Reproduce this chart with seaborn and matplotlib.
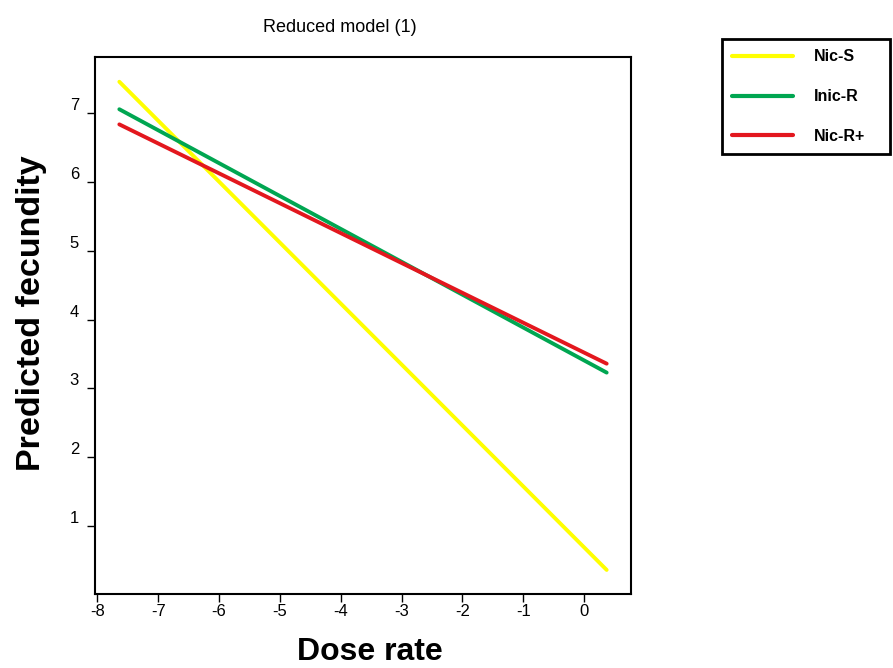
import matplotlib.pyplot as plt
from matplotlib.lines import Line2D
import seaborn as sns
import pandas as pd

groups = ["Nic-S", "Inic-R", "Nic-R+"]
dose = [-7.64, 0.37]
nic_s = [7.46, 0.36]
inic_r = [7.06, 3.23]
nic_r_plus = [6.84, 3.36]
colors = ["#ffff00", "#00a651", "#e3171e"]
xticks = [-8, -7, -6, -5, -4, -3, -2, -1, 0]
yticks = [1, 2, 3, 4, 5, 6, 7]

df = pd.DataFrame({
    "Dose rate": dose * 3,
    "Predicted fecundity": nic_s + inic_r + nic_r_plus,
    "group": [g for g in groups for _ in dose],
})

sns.set_style("white")
plt.rcParams["font.family"] = ["Liberation Sans", "DejaVu Sans"]
plt.rcParams["text.color"] = "black"
plt.rcParams["axes.labelcolor"] = "black"

fig = plt.figure(figsize=(8.93, 6.68), dpi=100)
ax = fig.add_axes([95 / 893, 1 - 594 / 668, 536 / 893, 537 / 668])
sns.lineplot(data=df, x="Dose rate", y="Predicted fecundity", hue="group",
             hue_order=groups, palette=colors, linewidth=2.8, legend=False, ax=ax)

ax.set_xlim(-8.04, 0.77)
ax.set_ylim(0.01, 7.82)
ax.set_xticks(xticks)
ax.set_yticks(yticks)
ax.set_xticklabels([str(t) for t in xticks])
ax.set_yticklabels([str(t) for t in yticks])

for s in ax.spines.values():
    s.set_color("black")
    s.set_linewidth(1.5)
ax.tick_params(axis="both", direction="out", length=5.5, width=1, color="black",
               labelsize=12, labelcolor="black", bottom=True, left=True)
ax.tick_params(axis="x", pad=2)
ax.tick_params(axis="y", pad=6)
plt.setp(ax.get_yticklabels(), va="bottom")

ax.set_xlabel("Dose rate", fontsize=23, fontweight="bold")
ax.set_ylabel("Predicted fecundity", fontsize=24.5, fontweight="bold")
ax.xaxis.set_label_coords(0.513, -0.08)
ax.yaxis.set_label_coords(-0.09, 0.523)

fig.text(340 / 893, 1 - 27 / 668, "Reduced model (1)", ha="center", va="center",
         fontsize=13, family=["Liberation Sans Narrow", "Liberation Sans"])

handles = [Line2D([0], [0], color=c, linewidth=3) for c in colors]
leg = fig.legend(handles, groups, loc="upper left",
                 bbox_to_anchor=(722 / 893, 1 - 155 / 668, 168 / 893, 116 / 668),
                 mode="expand", borderaxespad=0, frameon=True, fancybox=False,
                 edgecolor="black", framealpha=1,
                 prop={"weight": "bold", "size": 11.5},
                 handlelength=3.8, handletextpad=1.3, labelspacing=1.55, borderpad=0.65)
leg.get_frame().set_linewidth(2)

fig.savefig("out.png", dpi=100)
